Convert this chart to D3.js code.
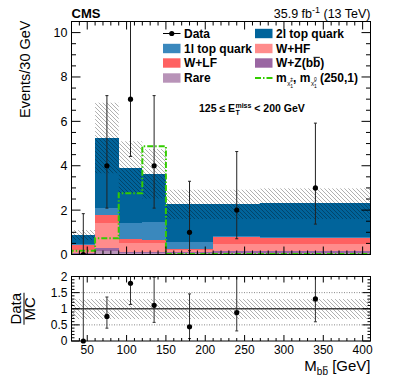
<!DOCTYPE html>
<html>
<head>
<meta charset="utf-8">
<script src="https://cdn.jsdelivr.net/npm/d3@7"></script>
<style>
  body { margin: 0; background: #fff; }
  svg { font-family: "Liberation Sans", Arial, sans-serif; }
</style>
</head>
<body>
<div id="chart"></div>
<script>
// Stacked background histogram + data, with Data/MC ratio panel underneath

// bin edges in GeV
const edges = [30, 60, 90, 120, 150, 210, 270, 410];

// background components, bottom of stack first
const rare  = [0.03, 0.15, 0.05, 0.05, 0.06, 0.06, 0.07];
const wzbb  = [0.02, 0.13, 0.07, 0.07, 0.07, 0.08, 0.08];
const whf   = [0.15, 1.12, 0.38, 0.38, 0.07, 0.33, 0.32];
const wlf   = [0.23, 0.38, 0.18, 0.15, 0.05, 0.30, 0.26];
const top1l = [0.05, 0.30, 0.72, 0.83, 0.33, 0.05, 0.04];
const top2l = [0.40, 3.17, 2.51, 2.14, 1.68, 1.45, 1.53];

// total background uncertainty band
const uncLo = [0.65, 3.66, 2.75, 2.52, 1.60, 1.60, 1.60];
const uncHi = [1.10, 6.84, 5.10, 4.75, 2.92, 2.92, 2.98];

// signal m(chargino), m(neutralino) = (250,1)
const signal = [0.17, 0.73, 2.76, 4.88, 0.02, 0.02, 0.02];

// observed data
const dataX  = [45, 75, 105, 135, 180, 240, 340];
const dataY  = [0, 4, 7, 4, 1, 2, 3];
const dataLo = [0, 2.09, 4.42, 2.09, 0.17, 0.71, 1.37];
const dataHi = [1.84, 7.16, 10.8, 7.16, 3.30, 4.64, 5.92];

// relative MC uncertainty in ratio panel
const ratioUncLo = [0.68, 0.68, 0.68, 0.68, 0.68, 0.68, 0.68];
const ratioUncHi = [1.30, 1.30, 1.30, 1.30, 1.30, 1.30, 1.30];

const xTicks = [50, 100, 150, 200, 250, 300, 350, 400];
const yTicks = [0, 2, 4, 6, 8, 10];
const rTicks = [0, 0.5, 1, 1.5, 2];

const W = 399, H = 383;
const left = 71.5, right = 370.5;
const mainTop = 21.5, mainBot = 254.5;
const ratTop = 276.5, ratBot = 341;

const colors = {
  rare: '#b893b8', wzbb: '#9a66a2', whf: '#ff8c8c', wlf: '#ff6161',
  top1l: '#3a88bd', top2l: '#01649b'
};
const keys = ['rare', 'wzbb', 'whf', 'wlf', 'top1l', 'top2l'];
const comp = {rare, wzbb, whf, wlf, top1l, top2l};

const bins = edges.slice(0, -1).map((e, i) => {
  let row = {x0: e, x1: edges[i + 1]};
  keys.forEach(k => row[k] = comp[k][i]);
  return row;
});
const totals = bins.map(b => d3.sum(keys, k => b[k]));

const svg = d3.select('#chart').append('svg')
  .attr('width', W).attr('height', H);

// hatch pattern "\\\"
const defs = svg.append('defs');
defs.append('pattern')
  .attr('id', 'hatch').attr('patternUnits', 'userSpaceOnUse')
  .attr('width', 4).attr('height', 4)
  .append('path')
  .attr('d', 'M0,0 L4,4 M-1,3 L1,5 M3,-1 L5,1')
  .attr('stroke', '#000').attr('stroke-opacity', 0.35).attr('stroke-width', 0.9);

defs.append('clipPath').attr('id', 'clipMain')
  .append('rect').attr('x', left).attr('y', mainTop)
  .attr('width', right - left).attr('height', mainBot - mainTop);
defs.append('clipPath').attr('id', 'clipRat')
  .append('rect').attr('x', left).attr('y', ratTop)
  .attr('width', right - left).attr('height', ratBot - ratTop);

const x = d3.scaleLinear().domain([30, 410]).range([left, right]);
const y = d3.scaleLinear().domain([0, 10.5]).range([mainBot, mainTop]);
const yr = d3.scaleLinear().domain([0, 2]).range([ratBot, ratTop]);

// ---------- main panel ----------
const main = svg.append('g').attr('clip-path', 'url(#clipMain)');

const series = d3.stack().keys(keys)(bins);
main.selectAll('g.layer')
  .data(series)
  .join('g')
  .attr('class', 'layer')
  .attr('fill', d => colors[d.key])
  .selectAll('rect')
  .data(d => d)
  .join('rect')
  .attr('x', d => x(d.data.x0))
  .attr('width', d => x(d.data.x1) - x(d.data.x0))
  .attr('y', d => y(d[1]))
  .attr('height', d => y(d[0]) - y(d[1]))
  .attr('shape-rendering', 'crispEdges');

main.selectAll('rect.unc')
  .data(bins)
  .join('rect')
  .attr('class', 'unc')
  .attr('x', d => x(d.x0))
  .attr('width', d => x(d.x1) - x(d.x0))
  .attr('y', (d, i) => y(uncHi[i]))
  .attr('height', (d, i) => y(uncLo[i]) - y(uncHi[i]))
  .attr('fill', 'url(#hatch)');

// signal step line
const sigPts = edges.map((e, i) => [e, signal[Math.min(i, signal.length - 1)]]);
sigPts.unshift([30, 0]);
main.append('path')
  .datum(sigPts)
  .attr('d', d3.line().x(d => x(d[0])).y(d => y(d[1])).curve(d3.curveStepAfter))
  .attr('fill', 'none')
  .attr('stroke', '#33cc00')
  .attr('stroke-width', 2)
  .attr('stroke-dasharray', '6,2,1.5,2');

// data points
const dataG = svg.append('g').attr('clip-path', 'url(#clipMain)');
dataG.selectAll('line.err')
  .data(dataX)
  .join('line')
  .attr('x1', d => x(d)).attr('x2', d => x(d))
  .attr('y1', (d, i) => y(dataLo[i]))
  .attr('y2', (d, i) => y(dataHi[i]))
  .attr('stroke', '#222').attr('stroke-width', 1);
dataG.selectAll('path.cap')
  .data(dataX)
  .join('path')
  .attr('d', (d, i) => `M${x(d) - 1.5},${y(dataHi[i])}h3M${x(d) - 1.5},${y(dataLo[i])}h3`)
  .attr('stroke', '#222').attr('stroke-width', 1);
dataG.selectAll('circle')
  .data(dataX)
  .join('circle')
  .attr('cx', d => x(d))
  .attr('cy', (d, i) => y(dataY[i]))
  .attr('r', 2.6)
  .attr('fill', '#000');

// ---------- ratio panel ----------
const rat = svg.append('g').attr('clip-path', 'url(#clipRat)');
rat.selectAll('line.grid')
  .data([0.5, 1.5])
  .join('line')
  .attr('x1', left).attr('x2', right)
  .attr('y1', d => yr(d)).attr('y2', d => yr(d))
  .attr('stroke', '#555').attr('stroke-width', 0.7)
  .attr('stroke-dasharray', '1,1.5');
rat.selectAll('rect.unc')
  .data(bins)
  .join('rect')
  .attr('x', d => x(d.x0))
  .attr('width', d => x(d.x1) - x(d.x0))
  .attr('y', (d, i) => yr(ratioUncHi[i]))
  .attr('height', (d, i) => yr(ratioUncLo[i]) - yr(ratioUncHi[i]))
  .attr('fill', 'url(#hatch)');
rat.append('line')
  .attr('x1', left).attr('x2', right)
  .attr('y1', yr(1)).attr('y2', yr(1))
  .attr('stroke', '#444').attr('stroke-width', 1.3);

const ratio = dataY.map((v, i) => v / totals[i]);
rat.selectAll('line.err')
  .data(dataX)
  .join('line')
  .attr('x1', d => x(d)).attr('x2', d => x(d))
  .attr('y1', (d, i) => yr(dataLo[i] / totals[i]))
  .attr('y2', (d, i) => yr(dataHi[i] / totals[i]))
  .attr('stroke', '#333').attr('stroke-width', 1);
rat.selectAll('path.cap')
  .data(dataX)
  .join('path')
  .attr('d', (d, i) => `M${x(d) - 1.5},${yr(dataHi[i] / totals[i])}h3M${x(d) - 1.5},${yr(dataLo[i] / totals[i])}h3`)
  .attr('stroke', '#333').attr('stroke-width', 1);
svg.append('g').selectAll('circle')
  .data(dataX)
  .join('circle')
  .attr('cx', d => x(d))
  .attr('cy', (d, i) => yr(ratio[i]))
  .attr('r', 2.6)
  .attr('fill', '#000');

// ---------- frames and ticks ----------
function frame(top, bot) {
  svg.append('rect')
    .attr('x', left).attr('y', top)
    .attr('width', right - left).attr('height', bot - top)
    .attr('fill', 'none').attr('stroke', '#000').attr('stroke-width', 1);
}
frame(mainTop, mainBot);
frame(ratTop, ratBot);

const tk = svg.append('g').attr('stroke', '#000').attr('stroke-width', 1);
function xTickMarks(top, bot, major, minor) {
  d3.range(30, 411, 10).forEach(v => {
    const len = v % 50 === 0 ? major : minor;
    tk.append('line').attr('x1', x(v)).attr('x2', x(v)).attr('y1', bot).attr('y2', bot - len);
    tk.append('line').attr('x1', x(v)).attr('x2', x(v)).attr('y1', top).attr('y2', top + len);
  });
}
xTickMarks(mainTop, mainBot, 8, 4);
xTickMarks(ratTop, ratBot, 6, 3);

d3.range(0, 10.51, 0.5).forEach(v => {
  const len = v % 2 === 0 ? 9 : 4.5;
  tk.append('line').attr('x1', left).attr('x2', left + len).attr('y1', y(v)).attr('y2', y(v));
  tk.append('line').attr('x1', right).attr('x2', right - len).attr('y1', y(v)).attr('y2', y(v));
});
d3.range(0, 2.01, 0.1).forEach(v => {
  const major = Math.abs(v * 2 - Math.round(v * 2)) < 1e-6;
  const len = major ? 8 : 3;
  tk.append('line').attr('x1', left).attr('x2', left + len).attr('y1', yr(v)).attr('y2', yr(v));
  tk.append('line').attr('x1', right).attr('x2', right - len).attr('y1', yr(v)).attr('y2', yr(v));
});

// tick labels
svg.append('g').selectAll('text')
  .data(yTicks)
  .join('text')
  .attr('x', left - 4).attr('y', d => y(d) + 4.5)
  .attr('text-anchor', 'end').attr('font-size', 12.5)
  .text(d => d);
svg.append('g').selectAll('text')
  .data(rTicks)
  .join('text')
  .attr('x', left - 4).attr('y', d => yr(d) + 4.3)
  .attr('text-anchor', 'end').attr('font-size', 12)
  .text(d => d);
svg.append('g').selectAll('text')
  .data(xTicks)
  .join('text')
  .attr('x', d => x(d)).attr('y', ratBot + 12.5)
  .attr('text-anchor', 'middle').attr('font-size', 12)
  .text(d => d);

// small helper: draws a bar over one character of a text element
function overline(textSel, idx, size) {
  const node = textSel.node();
  const ext = node.getExtentOfChar(idx);
  const base = +textSel.attr('y');
  svg.append('line')
    .attr('x1', ext.x + 0.5).attr('x2', ext.x + ext.width - 0.5)
    .attr('y1', base - size * 0.83).attr('y2', base - size * 0.83)
    .attr('stroke', '#000').attr('stroke-width', size > 10 ? 1 : 0.8);
}

// places pieces of text one after the other, returns the end x
function piece(x0, yb, str, size, weight) {
  const t = svg.append('text').attr('x', x0).attr('y', yb)
    .attr('font-size', size).attr('font-weight', weight).text(str);
  return x0 + t.node().getComputedTextLength();
}

// axis titles
svg.append('text')
  .attr('transform', `translate(30,${mainTop - 1}) rotate(-90)`)
  .attr('text-anchor', 'end').attr('font-size', 14.5)
  .text('Events/30 GeV');

{
  // M_{b bbar} [GeV], right aligned to the frame
  const probe = svg.append('text').attr('font-size', 15).text('M');
  const mW = probe.node().getComputedTextLength(); probe.remove();
  const probe2 = svg.append('text').attr('font-size', 10).text('bb');
  const sW = probe2.node().getComputedTextLength(); probe2.remove();
  const probe3 = svg.append('text').attr('font-size', 15).text('\u00a0[GeV]');
  const uW = probe3.node().getComputedTextLength(); probe3.remove();
  const x0 = right - mW - sW - uW;
  let cx = piece(x0, 371, 'M', 15, 'normal');
  const subT = svg.append('text').attr('x', cx).attr('y', 375).attr('font-size', 10).text('bb');
  overline(subT, 1, 10);
  piece(cx + sW, 371, '\u00a0[GeV]', 15, 'normal');
}

const ry = svg.append('g').attr('transform', `translate(24,${(ratTop + ratBot) / 2}) rotate(-90)`);
ry.append('text').attr('y', -3).attr('text-anchor', 'middle').attr('font-size', 15).text('Data');
ry.append('text').attr('y', 11).attr('text-anchor', 'middle').attr('font-size', 15).text('MC');
ry.append('line').attr('x1', -16).attr('x2', 16).attr('y1', 0).attr('y2', 0)
  .attr('stroke', '#000').attr('stroke-width', 1);

// header
svg.append('text').attr('x', left).attr('y', 18)
  .attr('font-size', 13).attr('font-weight', 'bold').text('CMS');
const lum = svg.append('text').attr('x', right).attr('y', 18)
  .attr('text-anchor', 'end').attr('font-size', 12.5);
lum.append('tspan').text('35.9 fb');
lum.append('tspan').attr('dy', -5).attr('font-size', 9).text('-1');
lum.append('tspan').attr('dy', 5).text('\u00a0(13 TeV)');

// region label: 125 <= E_T^miss < 200 GeV
{
  const yb = 112;
  let cx = piece(199, yb, '125 \u2264 E', 10.5, 'bold');
  const a = piece(cx + 0.3, yb - 4.5, 'miss', 7, 'bold');
  const b = piece(cx + 0.3, yb + 2.5, 'T', 7, 'bold');
  piece(Math.max(a, b), yb, '\u00a0< 200 GeV', 10.5, 'bold');
}

// ---------- legend ----------
const leg = svg.append('g').attr('font-size', 12).attr('font-weight', 'bold');
const legendBoxes = [
  {col: 0, row: 1, key: 'top1l', label: '1l top quark'},
  {col: 0, row: 2, key: 'wlf', label: 'W+LF'},
  {col: 0, row: 3, key: 'rare', label: 'Rare'},
  {col: 1, row: 0, key: 'top2l', label: '2l top quark'},
  {col: 1, row: 1, key: 'whf', label: 'W+HF'},
  {col: 1, row: 2, key: 'wzbb', label: 'W+Z(bb)'}
];
const colX = [163, 255];
const rowY = [33.5, 48.5, 63, 78];
leg.selectAll('rect')
  .data(legendBoxes)
  .join('rect')
  .attr('x', d => colX[d.col]).attr('y', d => rowY[d.row] - 4.7)
  .attr('width', 17.5).attr('height', 9.4)
  .attr('fill', d => colors[d.key]);
leg.selectAll('text.lab')
  .data(legendBoxes)
  .join('text')
  .attr('class', 'lab')
  .attr('x', d => colX[d.col] + 21).attr('y', d => rowY[d.row] + 4.3)
  .text(d => d.label);
overline(leg.selectAll('text.lab').filter(d => d.key === 'wzbb'), 5, 12);

// Data entry
leg.append('line').attr('x1', colX[0]).attr('x2', colX[0] + 17.5)
  .attr('y1', rowY[0]).attr('y2', rowY[0]).attr('stroke', '#000').attr('stroke-width', 1);
leg.append('circle').attr('cx', colX[0] + 8.75).attr('cy', rowY[0]).attr('r', 2.6).attr('fill', '#000');
leg.append('text').attr('x', colX[0] + 21).attr('y', rowY[0] + 4.3).text('Data');

// signal entry
leg.append('line').attr('x1', colX[1]).attr('x2', colX[1] + 17.5)
  .attr('y1', rowY[3]).attr('y2', rowY[3])
  .attr('stroke', '#33cc00').attr('stroke-width', 2).attr('stroke-dasharray', '6,2,1.5,2');
{
  const yb = rowY[3] + 4.3;
  let cx = piece(colX[1] + 21, yb, 'm', 12, 'bold');
  let c1 = piece(cx + 0.5, yb + 3, '\u03c7\u0303', 6, 'normal');
  let s1 = piece(c1, yb - 1.5, '\u00b1', 5, 'normal');
  let s2 = piece(c1, yb + 6, '1', 5, 'normal');
  cx = piece(Math.max(s1, s2), yb, ', m', 12, 'bold');
  c1 = piece(cx + 0.5, yb + 3, '\u03c7\u0303', 6, 'normal');
  s1 = piece(c1, yb - 1.5, '0', 5, 'normal');
  s2 = piece(c1, yb + 6, '1', 5, 'normal');
  piece(Math.max(s1, s2) + 3, yb, '(250,1)', 12, 'bold');
}
</script>
</body>
</html>
